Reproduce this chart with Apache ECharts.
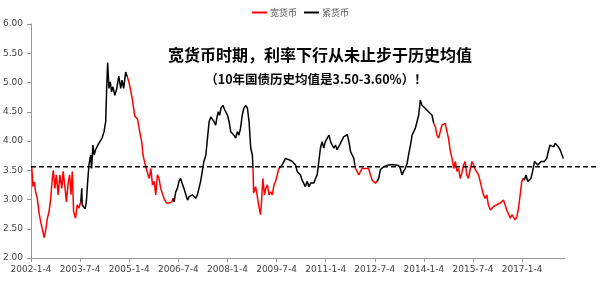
<!DOCTYPE html>
<html><head><meta charset="utf-8">
<script src="https://cdn.jsdelivr.net/npm/echarts@6/dist/echarts.min.js"></script>
<style>html,body{margin:0;padding:0;background:#fff}#c{width:600px;height:288px}</style>
</head><body><div id="c"></div>
<script>
// x tick labels (every 1.5 years from 2002-1-4)
const tickLabels = ['2002-1-4','2003-7-4','2005-1-4','2006-7-4','2008-1-4','2009-7-4','2011-1-4','2012-7-4','2014-1-4','2015-7-4','2017-1-4'];
const seriesNames = ['宽货币','紧货币'];
const titleText = '宽货币时期，利率下行从未止步于历史均值';
const subtitleText = '（10年国债历史均值是3.50-3.60%）！';
// decimal years
const years = [
2002.02,2002.06,2002.10,2002.14,2002.19,2002.24,2002.30,2002.34,2002.40,2002.45,2002.50,2002.55,2002.60,2002.65,2002.68,2002.73,2002.77,2002.83,2002.88,2002.94,2002.98,
2003.04,2003.08,2003.14,2003.18,2003.22,2003.26,2003.30,2003.36,2003.41,2003.46,2003.52,
2003.55,2003.56,2003.65,2003.69,2003.73,2003.77,2003.82,2003.85,2003.89,2003.93,2003.97,2004.02,2004.07,2004.13,2004.17,2004.23,2004.28,2004.31,2004.34,2004.38,2004.42,2004.46,2004.50,2004.56,2004.62,2004.68,2004.74,2004.78,2004.83,2004.89,2004.94,
2004.99,2005.09,2005.17,2005.25,2005.32,2005.38,2005.42,2005.49,2005.56,2005.61,2005.66,2005.71,2005.76,2005.81,2005.86,2005.91,2005.96,2006.02,2006.06,2006.14,2006.22,2006.30,2006.34,
2006.37,2006.42,2006.47,2006.52,2006.57,2006.63,2006.67,2006.73,2006.78,2006.83,2006.88,2006.93,2006.98,2007.03,2007.08,2007.13,2007.18,2007.23,2007.28,2007.34,2007.39,2007.44,2007.49,2007.54,2007.59,2007.64,2007.67,2007.72,2007.76,2007.80,2007.86,2007.92,2008.00,2008.05,2008.10,2008.15,2008.20,2008.25,2008.30,2008.35,2008.40,2008.45,2008.50,2008.56,2008.61,2008.66,2008.71,2008.76,2008.78,
2008.80,2008.86,2008.91,2008.96,2009.01,2009.04,2009.08,2009.13,2009.17,2009.22,2009.27,2009.32,2009.37,2009.42,2009.47,2009.52,2009.57,
2009.67,2009.77,2009.83,2009.88,2009.93,2009.98,2010.03,2010.08,2010.13,2010.18,2010.23,2010.28,2010.33,2010.38,2010.43,2010.49,2010.54,2010.59,2010.64,2010.69,2010.74,2010.79,2010.84,2010.89,2010.94,2010.99,2011.05,2011.10,2011.15,2011.20,2011.25,2011.30,2011.35,2011.40,2011.45,2011.50,2011.55,2011.60,2011.66,2011.71,2011.76,2011.81,2011.86,2011.89,
2011.91,2011.96,2012.01,2012.06,2012.11,2012.16,2012.21,2012.27,2012.31,2012.37,2012.42,2012.47,2012.52,2012.57,
2012.62,2012.67,2012.72,2012.77,2012.82,2012.92,2013.03,2013.13,2013.23,2013.28,2013.33,2013.38,2013.43,2013.49,2013.53,2013.59,2013.64,2013.69,2013.74,2013.79,2013.84,2013.89,2013.94,2013.99,2014.04,2014.09,2014.14,2014.20,2014.25,2014.30,
2014.35,2014.40,2014.45,2014.50,2014.55,2014.60,2014.65,2014.70,2014.75,2014.81,2014.86,2014.91,2014.96,2015.01,2015.06,2015.11,2015.16,2015.21,2015.26,2015.31,2015.36,2015.42,2015.47,2015.52,2015.57,2015.62,2015.67,2015.72,2015.77,2015.82,2015.87,2015.92,2015.97,2016.03,2016.08,2016.13,2016.18,2016.23,2016.28,2016.33,2016.38,2016.43,2016.48,2016.53,2016.58,2016.64,2016.69,2016.74,2016.79,2016.84,2016.89,2016.94,2016.99,2017.04,2017.07,
2017.12,2017.17,2017.22,2017.27,2017.32,2017.38,2017.43,2017.48,2017.53,2017.58,2017.63,2017.68,2017.75,2017.80,2017.85,2017.90,2017.96,2018.01,2018.06,2018.11,2018.16,2018.21,2018.26
];
// 10-year treasury yield (%)
const yields = [
3.57,3.22,3.30,3.13,3.02,2.79,2.60,2.51,2.35,2.48,2.68,2.79,3.02,3.36,3.50,3.19,3.42,3.08,3.42,3.19,3.48,
3.19,2.96,3.31,3.42,3.08,3.48,2.79,2.68,2.91,2.85,2.96,
3.19,2.91,2.84,2.96,3.31,3.59,3.76,3.53,3.93,3.76,3.85,3.82,3.96,3.93,4.05,4.16,4.33,4.90,5.34,4.90,5.01,4.84,4.93,4.78,4.90,5.11,4.90,5.04,4.90,5.18,5.10,
5.01,4.73,4.42,4.38,4.16,3.99,3.76,3.59,3.45,3.36,3.53,3.25,3.31,3.08,3.42,3.36,3.19,3.19,3.02,2.94,2.94,2.96,3.02,
2.96,3.13,3.19,3.31,3.36,3.25,3.19,3.08,2.99,3.05,3.02,3.08,3.05,3.02,3.08,3.19,3.31,3.48,3.65,3.76,4.05,4.33,4.41,4.44,4.33,4.27,4.38,4.50,4.44,4.56,4.61,4.53,4.44,4.33,4.16,4.13,4.10,4.05,4.16,4.10,4.22,4.44,4.56,4.61,4.56,4.33,3.88,3.76,3.53,
3.11,3.22,3.06,2.88,2.74,2.96,3.36,3.08,3.19,3.25,3.08,3.13,3.08,3.25,3.31,3.42,3.53,
3.59,3.70,3.73,3.68,3.70,3.65,3.68,3.59,3.48,3.51,3.42,3.33,3.36,3.22,3.31,3.22,3.28,3.25,3.28,3.36,3.42,3.65,3.88,3.99,3.88,3.99,4.02,4.10,3.99,3.93,3.88,3.93,3.85,3.88,3.96,3.99,4.07,4.10,4.11,3.99,3.82,3.76,3.70,3.59,
3.53,3.48,3.42,3.45,3.53,3.54,3.53,3.51,3.53,3.42,3.33,3.36,3.28,3.31,
3.36,3.51,3.53,3.56,3.59,3.59,3.60,3.59,3.58,3.53,3.42,3.48,3.53,3.62,3.76,3.93,4.10,4.07,4.22,4.33,4.44,4.70,4.61,4.64,4.56,4.53,4.50,4.53,4.44,4.30,
4.24,4.10,4.05,4.16,4.27,4.24,4.30,4.27,4.05,3.82,3.70,3.53,3.65,3.48,3.53,3.36,3.45,3.59,3.65,3.42,3.36,3.53,3.65,3.59,3.51,3.53,3.42,3.31,3.19,3.08,3.02,3.08,2.91,2.82,2.85,2.88,2.85,2.91,2.88,2.94,2.96,2.99,2.91,2.82,2.79,2.68,2.74,2.71,2.65,2.71,2.85,3.08,3.31,3.36,3.33,
3.42,3.31,3.28,3.36,3.48,3.65,3.62,3.59,3.62,3.65,3.64,3.65,3.70,3.82,3.93,3.96,3.90,3.96,3.93,3.90,3.85,3.82,3.70
];
// regime switch dates; series starts in 宽货币 (wide money)
const regimeBreaks = [2003.52, 2004.94, 2006.34, 2008.78, 2009.57, 2011.89, 2012.57, 2014.30, 2017.07];
const historicalMean = 3.56;
const yTicks = {min: 2, max: 6, interval: 0.5};
const xStartYear = 2002, xEndYear = 2018.31, xStep = 1.5;

const wideData = [], tightData = [];
years.forEach((yr, i) => {
  let k = 0;
  regimeBreaks.forEach(b => { if (yr > b + 1e-6) k++; });
  const isBreak = regimeBreaks.some(b => Math.abs(b - yr) < 1e-6);
  const wide = k % 2 === 0;
  const t = yr - xStartYear;
  wideData.push([t, (wide || isBreak) ? yields[i] : null]);
  tightData.push([t, (!wide || isBreak) ? yields[i] : null]);
});

const chart = echarts.init(document.getElementById('c'), null, {renderer: 'canvas'});
const labelFont = {fontSize: 9, color: '#444', fontFamily: 'DejaVu Sans'};
chart.setOption({
  animation: false,
  backgroundColor: '#fff',
  legend: {
    data: seriesNames, top: 3, left: 247, itemWidth: 15, itemHeight: 2, icon: 'rect', itemGap: 7,
    textStyle: {fontSize: 9, color: '#555', fontFamily: 'Noto Sans CJK SC', padding: [0, 0, 0, -2]}
  },
  graphic: [
    {type: 'text', x: 320, y: 55, style: {text: titleText, font: 'bold 16px "Noto Sans CJK SC"', fill: '#000', align: 'center', verticalAlign: 'middle'}},
    {type: 'text', x: 316, y: 79, style: {text: subtitleText, font: 'bold 12.5px "Noto Sans CJK SC"', fill: '#000', align: 'center', verticalAlign: 'middle'}}
  ],
  grid: [
    {left: 31, right: 35, top: 24, bottom: 30},
    {left: 31, right: 3, top: 24, bottom: 30}
  ],
  xAxis: [
    {type: 'value', gridIndex: 0, min: 0, max: xEndYear - xStartYear, interval: xStep,
     axisLine: {show: true, lineStyle: {color: '#999'}},
     axisTick: {show: true, length: 4, lineStyle: {color: '#999'}},
     splitLine: {show: false},
     axisLabel: Object.assign({margin: 7, showMaxLabel: false, formatter: v => tickLabels[Math.round(v / xStep)] || ''}, labelFont)},
    {type: 'value', gridIndex: 1, min: 0, max: 1, show: false}
  ],
  yAxis: [
    {type: 'value', gridIndex: 0, min: yTicks.min, max: yTicks.max, interval: yTicks.interval,
     axisLine: {show: true, lineStyle: {color: '#999'}},
     axisTick: {show: true, length: 4, lineStyle: {color: '#999'}},
     splitLine: {show: false},
     axisLabel: Object.assign({margin: 8, formatter: v => v.toFixed(2)}, labelFont)},
    {type: 'value', gridIndex: 1, min: yTicks.min, max: yTicks.max, show: false}
  ],
  series: [
    {name: seriesNames[0], type: 'line', xAxisIndex: 0, yAxisIndex: 0, data: wideData, showSymbol: false, symbol: 'none',
     connectNulls: false, lineStyle: {color: '#ff0000', width: 1.5}, itemStyle: {color: '#ff0000'}},
    {name: seriesNames[1], type: 'line', xAxisIndex: 0, yAxisIndex: 0, data: tightData, showSymbol: false, symbol: 'none',
     connectNulls: false, lineStyle: {color: '#000', width: 1.5}, itemStyle: {color: '#000'}},
    {name: 'mean', type: 'line', xAxisIndex: 1, yAxisIndex: 1, data: [[0, historicalMean], [1, historicalMean]], symbol: 'none',
     lineStyle: {color: '#000', width: 1.5, type: [5, 3]}, z: 3, silent: true}
  ]
});
</script>
</body></html>
